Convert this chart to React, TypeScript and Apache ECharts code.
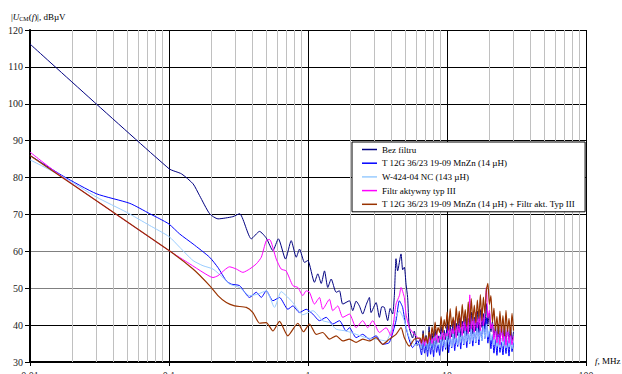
import React, { useEffect, useRef } from 'react';
import * as echarts from 'echarts';

const seriesNames = [
  'Bez filtru',
  'T 12G 36/23 19-09 MnZn (14 µH)',
  'W-424-04 NC (143 µH)',
  'Filtr aktywny typ III',
  'T 12G 36/23 19-09 MnZn (14 µH) + Filtr akt. Typ III',
];
const seriesColors = ['#000080', '#0000FF', '#99CCFF', '#FF00FF', '#993300'];
const xTickLabels = ['0.01', '0.1', '1', '10', '100'];
const decades = [0.01, 0.1, 1, 10];
const minorMultipliers = [2, 3, 4, 5, 6, 7, 8, 9];

// low / mid frequency parts: [f (MHz), level (dBµV)]
const navyLF: [number, number][] = [
  [0.01, 116.2], [0.1, 82.4], [0.123, 81.0], [0.149, 78.3], [0.166, 75.1], [0.196, 70.2],
  [0.225, 68.8], [0.288, 69.4], [0.322, 70.2], [0.391, 63.4], [0.448, 65.4], [0.501, 63.6],
  [0.559, 60.2], [0.612, 63.4], [0.689, 57.9], [0.757, 62.9], [0.823, 58.4], [0.869, 60.6],
  [0.944, 57.0], [0.997, 57.5], [1.113, 51.6], [1.176, 53.9], [1.245, 51.3], [1.314, 54.7],
  [1.388, 50.2], [1.468, 52.5], [1.594, 48.9], [1.684, 49.3], [1.778, 45.7], [1.986, 46.6],
  [2.097, 43.9], [2.22, 46.5], [2.343, 45.2], [2.475, 43.0], [2.62, 45.5], [2.764, 47.5],
  [2.843, 43.4], [3.089, 46.1], [3.263, 42.1], [3.4, 45.0], [3.543, 44.8], [3.742, 41.2],
  [3.9, 44.5], [4.064, 43.0], [4.18, 48.0], [4.298, 58.0], [4.414, 54.7], [4.669, 59.3],
  [4.8, 55.0], [4.932, 55.7], [5.073, 51.1], [5.209, 47.5], [5.357, 39.3], [5.657, 36.5],
  [5.82, 38.4], [6.1, 34.5],
];
const blueLF: [number, number][] = [
  [0.01, 86.0], [0.0173, 80.4], [0.0301, 75.6], [0.0523, 73.0], [0.0727, 70.2], [0.0859, 68.8],
  [0.1, 67.4], [0.1194, 64.7], [0.1489, 62.0], [0.196, 58.4], [0.225, 55.6], [0.2585, 52.0],
  [0.2809, 51.1], [0.322, 50.7], [0.38, 47.5], [0.4246, 48.9], [0.4613, 47.5], [0.501, 49.3],
  [0.559, 46.6], [0.624, 47.5], [0.716, 44.3], [0.778, 45.2], [0.869, 43.4], [0.97, 44.3],
  [1.083, 43.0], [1.209, 41.2], [1.351, 42.1], [1.507, 40.3], [1.684, 41.2], [1.882, 38.4],
  [1.986, 39.3], [2.219, 36.6], [2.475, 37.5], [2.764, 36.2], [3.089, 37.1], [3.445, 34.8],
  [3.848, 35.3], [4.298, 41.2], [4.542, 46.6], [4.796, 44.8], [5.073, 39.3], [5.657, 33.9],
  [6.144, 35.7],
];
const lightBlueLF: [number, number][] = [
  [0.01, 84.8], [0.0173, 80.2], [0.0301, 74.7], [0.0495, 70.6], [0.0727, 67.0], [0.1, 64.0],
  [0.1194, 61.1], [0.1489, 57.5], [0.1756, 56.1], [0.2071, 55.2], [0.2444, 52.9], [0.273, 51.1],
  [0.322, 50.2], [0.38, 48.0], [0.436, 48.4], [0.501, 49.3], [0.574, 44.8], [0.641, 49.1],
  [0.696, 48.0], [0.778, 46.1], [0.918, 42.8], [1.083, 43.9], [1.277, 41.2], [1.426, 40.7],
  [1.594, 38.9], [1.882, 38.4], [2.219, 37.5], [2.618, 36.6], [3.089, 36.2], [3.645, 35.7],
  [4.18, 41.2], [4.542, 43.9], [4.932, 41.2], [5.357, 36.6], [5.9, 34.5],
];
const magentaLF: [number, number][] = [
  [0.01, 86.9], [0.0173, 80.0], [0.1, 60.2], [0.141, 56.6], [0.1756, 54.3], [0.2071, 52.9],
  [0.225, 53.4], [0.273, 55.8], [0.305, 55.2], [0.34, 54.3], [0.38, 55.2], [0.4246, 56.6],
  [0.4613, 58.4], [0.501, 62.9], [0.529, 63.2], [0.591, 57.9], [0.641, 55.2], [0.696, 54.7],
  [0.778, 50.7], [0.845, 50.2], [0.918, 48.0], [0.97, 49.3], [1.025, 48.9], [1.113, 45.7],
  [1.209, 47.5], [1.277, 44.3], [1.426, 47.0], [1.507, 43.9], [1.637, 45.2], [1.778, 42.1],
  [1.986, 43.0], [2.219, 39.3], [2.475, 41.2], [2.688, 39.3], [2.92, 41.2], [3.263, 38.0],
  [3.645, 39.3], [3.958, 37.1], [4.298, 45.7], [4.542, 48.0], [4.669, 50.2], [4.932, 47.5],
  [5.073, 43.0], [5.357, 39.3], [5.82, 37.5],
];
const brownLF: [number, number][] = [
  [0.01, 86.0], [0.1, 60.2], [0.1489, 55.2], [0.196, 50.7], [0.225, 48.0], [0.2585, 46.1],
  [0.2966, 45.2], [0.36, 44.8], [0.4014, 43.4], [0.448, 40.5], [0.501, 40.7], [0.559, 38.4],
  [0.624, 41.0], [0.716, 37.1], [0.845, 40.5], [0.928, 38.2], [1.025, 40.3], [1.145, 37.5],
  [1.277, 38.0], [1.426, 36.2], [1.594, 37.1], [1.778, 35.7], [1.986, 36.2], [2.219, 35.3],
  [2.475, 36.2], [2.764, 35.7], [3.089, 36.6], [3.445, 34.8], [3.848, 36.2], [4.298, 37.5],
  [4.669, 39.3], [4.932, 36.6], [5.357, 34.3], [5.82, 36.2],
];

// high frequency part (6.4 – 30 MHz), shared frequency list
const hfFreq = [
  6.4, 6.56, 6.73, 6.9, 7.07, 7.25, 7.43, 7.62, 7.81, 8.01, 8.21, 8.42, 8.63, 8.85, 9.07, 9.3,
  9.54, 9.78, 10.03, 10.28, 10.54, 10.81, 11.08, 11.36, 11.65, 11.94, 12.24, 12.55, 12.87, 13.2,
  13.53, 13.87, 14.22, 14.58, 14.95, 15.33, 15.72, 16.12, 16.53, 16.95, 17.38, 17.82, 18.27, 18.73,
  19.2, 19.69, 20.19, 20.7, 21.22, 21.76, 22.31, 22.87, 23.45, 24.04, 24.65, 25.27, 25.91, 26.57,
  27.24, 27.93, 28.64, 29.36, 30.1,
];
const navyHF = [
  36.2, 33.4, 38.5, 34.1, 37.2, 33.0, 39.6,
  34.4, 37.8, 33.6, 38.9, 34.8, 37.1, 35.2, 39.6,
  35.6, 38.6, 36.0, 40.2, 35.9, 39.8, 36.8, 41.2, 36.3, 40.5,
  37.2, 42.0, 36.8, 41.1, 37.8, 42.6, 37.2, 41.8, 38.2, 43.5, 37.6, 42.2,
  38.4, 43.8, 38.0, 44.2, 39.4, 43.1, 39.0, 45.8, 40.2, 43.3, 38.2,
  40.9, 36.8, 39.5, 36.1, 40.2, 35.7, 39.0,
  36.4, 39.6, 35.5, 38.8, 36.2, 39.4, 35.8, 38.2,
];
const blueHF = [
  33.8, 31.9, 35.6, 32.4, 34.9, 31.5, 36.2,
  32.1, 35.3, 31.4, 36.8, 32.6, 34.7, 31.8, 37.4,
  32.9, 36.1, 33.4, 38.2, 32.5, 37.0, 33.8, 38.8, 33.1, 36.5,
  34.2, 39.4, 33.5, 37.9, 34.6, 40.1, 33.9, 38.3, 35.0, 39.6, 34.3, 38.7,
  35.2, 40.8, 34.6, 39.2, 35.8, 41.5, 36.4, 42.0, 35.1, 38.4, 33.6,
  37.2, 32.4, 36.1, 31.8, 37.5, 32.6, 35.4,
  31.9, 36.8, 32.3, 35.9, 31.6, 37.2, 32.8, 35.3,
];
const lightBlueHF = [
  35.2, 33.6, 36.4, 34.0, 35.7, 33.2, 36.8,
  33.9, 36.1, 33.4, 37.0, 34.2, 36.3, 33.7, 37.5,
  34.5, 36.9, 33.9, 37.8, 34.8, 37.2, 34.1, 38.3, 35.0, 37.6,
  34.6, 38.5, 35.3, 37.9, 34.9, 38.8, 35.6, 38.1, 35.2, 39.0, 35.8, 38.4,
  35.4, 39.3, 36.1, 38.6, 35.7, 39.8, 36.5, 40.2, 36.8, 38.9, 35.9,
  37.6, 34.6, 37.1, 34.2, 36.8, 33.9, 36.5,
  34.3, 37.0, 33.8, 36.4, 34.1, 36.9, 33.6, 35.8,
];
const magentaHF = [
  36.0, 34.8, 37.0, 34.4, 36.5, 35.0, 35.9,
  37.4, 35.0, 36.6, 35.8, 38.2, 35.3, 37.0, 36.1,
  39.0, 36.0, 37.8, 37.0, 40.4, 36.4, 39.0, 37.6, 41.2, 36.6,
  40.0, 38.0, 42.0, 37.2, 41.3, 38.4, 41.2, 37.7, 48.2, 38.9, 41.8, 38.1,
  43.5, 39.2, 42.4, 38.5, 44.6, 39.9, 43.5, 50.2, 42.0, 44.0, 39.0,
  40.4, 36.1, 39.0, 35.2, 38.6, 34.7, 40.0,
  35.6, 38.4, 34.5, 39.4, 35.1, 38.0, 34.7, 37.0,
];
const brownHF = [
  36.5, 35.2, 37.6, 35.6, 36.8, 35.0, 38.2,
  36.0, 39.5, 36.8, 40.8, 37.4, 39.4, 38.0, 42.3,
  38.0, 41.5, 39.2, 43.6, 38.6, 44.5, 39.6, 42.2, 38.6, 45.1,
  40.0, 43.8, 39.4, 45.6, 40.8, 44.2, 39.6, 46.3, 40.2, 47.2, 41.2, 45.4,
  40.6, 46.8, 41.8, 48.3, 41.2, 47.6, 43.2, 49.5, 51.3, 45.6, 48.0,
  40.8, 44.6, 38.4, 42.4, 37.6, 43.8, 38.0,
  42.6, 37.0, 44.0, 38.2, 41.8, 37.2, 43.2, 38.5,
];

const lfParts = [navyLF, blueLF, lightBlueLF, magentaLF, brownLF];
const hfParts = [navyHF, blueHF, lightBlueHF, magentaHF, brownHF];

const SERIF = '"Liberation Serif", "Times New Roman", serif';

export default function App() {
  const ref = useRef<HTMLDivElement>(null);
  useEffect(() => {
    if (!ref.current) return;
    const chart = echarts.init(ref.current, null, { renderer: 'svg' });
    const minorLines = decades.flatMap((d) => minorMultipliers.map((k) => ({ xAxis: d * k })));
    const dataSeries = seriesNames.map((name, i) => ({
      name,
      type: 'line',
      data: lfParts[i].concat(hfFreq.map((f, j) => [f, hfParts[i][j]] as [number, number])),
      showSymbol: false,
      symbol: 'none',
      smooth: 0.2,
      lineStyle: { color: seriesColors[i], width: i === 4 ? 1.2 : 1 },
      itemStyle: { color: seriesColors[i] },
      emphasis: { disabled: true },
      silent: true,
      z: 2,
    }));
    const option: any = {
      animation: false,
      grid: {
        left: 30,
        width: 556,
        top: 30,
        height: 332,
        containLabel: false,
        outerBoundsMode: 'none',
      },
      xAxis: {
        type: 'log',
        logBase: 10,
        min: 0.01,
        max: 100,
        axisLine: { show: true, onZero: false, lineStyle: { color: '#000', width: 2 } },
        axisTick: { show: true, length: 4, lineStyle: { color: '#000' } },
        axisLabel: {
          fontFamily: SERIF,
          fontSize: 10,
          color: '#222',
          margin: 8,
          formatter: (v: number) => xTickLabels[Math.round(Math.log10(v)) + 2] ?? '',
        },
        splitLine: { show: true, lineStyle: { color: '#000', width: 1 } },
      },
      yAxis: {
        type: 'value',
        min: 30,
        max: 120,
        interval: 10,
        axisLine: { show: true, lineStyle: { color: '#000', width: 2 } },
        axisTick: { show: true, length: 5, lineStyle: { color: '#000' } },
        axisLabel: { fontFamily: SERIF, fontSize: 10, color: '#222', margin: 7 },
        splitLine: {
          show: true,
          lineStyle: {
            color: ['#000', '#000', '#808080', '#808080', '#000', '#000', '#000', '#000', '#000', '#000'],
            width: 1,
          },
        },
      },
      legend: {
        data: seriesNames,
        orient: 'vertical',
        left: 352,
        top: 142,
        z: 10,
        backgroundColor: '#fff',
        borderColor: '#000',
        borderWidth: 1,
        borderRadius: 0,
        padding: [3, 10, 3, 10],
        itemGap: 4.7,
        itemWidth: 15,
        itemHeight: 1.5,
        icon: 'rect',
        textStyle: { fontFamily: SERIF, fontSize: 9, color: '#000' },
        selectedMode: false,
      },
      graphic: [
        {
          type: 'text',
          left: 11,
          top: 12,
          style: {
            text: '{n||}{i|U}{s|CM}{n|(}{i|f}{n|)|, dBµV}',
            rich: {
              n: { fontFamily: SERIF, fontSize: 9, fill: '#000' },
              i: { fontFamily: SERIF, fontSize: 9, fontStyle: 'italic', fill: '#000' },
              s: { fontFamily: SERIF, fontSize: 6, fill: '#000', padding: [4, 0, 0, 0] },
            },
          },
        },
        {
          type: 'text',
          left: 595,
          top: 356,
          style: {
            text: '{i|f}{n|, MHz}',
            rich: {
              n: { fontFamily: SERIF, fontSize: 9, fill: '#000' },
              i: { fontFamily: SERIF, fontSize: 9, fontStyle: 'italic', fill: '#000' },
            },
          },
        },
      ],
      series: [
        {
          name: 'minor-grid',
          type: 'line',
          data: [],
          silent: true,
          z: 1,
          markLine: {
            silent: true,
            z: 1,
            symbol: ['none', 'none'],
            label: { show: false },
            lineStyle: { color: '#c0c0c0', width: 1, type: 'solid' },
            emphasis: { disabled: true },
            data: minorLines,
          },
        },
        ...dataSeries,
      ],
    };
    chart.setOption(option);
    return () => chart.dispose();
  }, []);
  return <div ref={ref} style={{ position: 'absolute', left: 0, top: 0, width: 622, height: 374 }} />;
}
